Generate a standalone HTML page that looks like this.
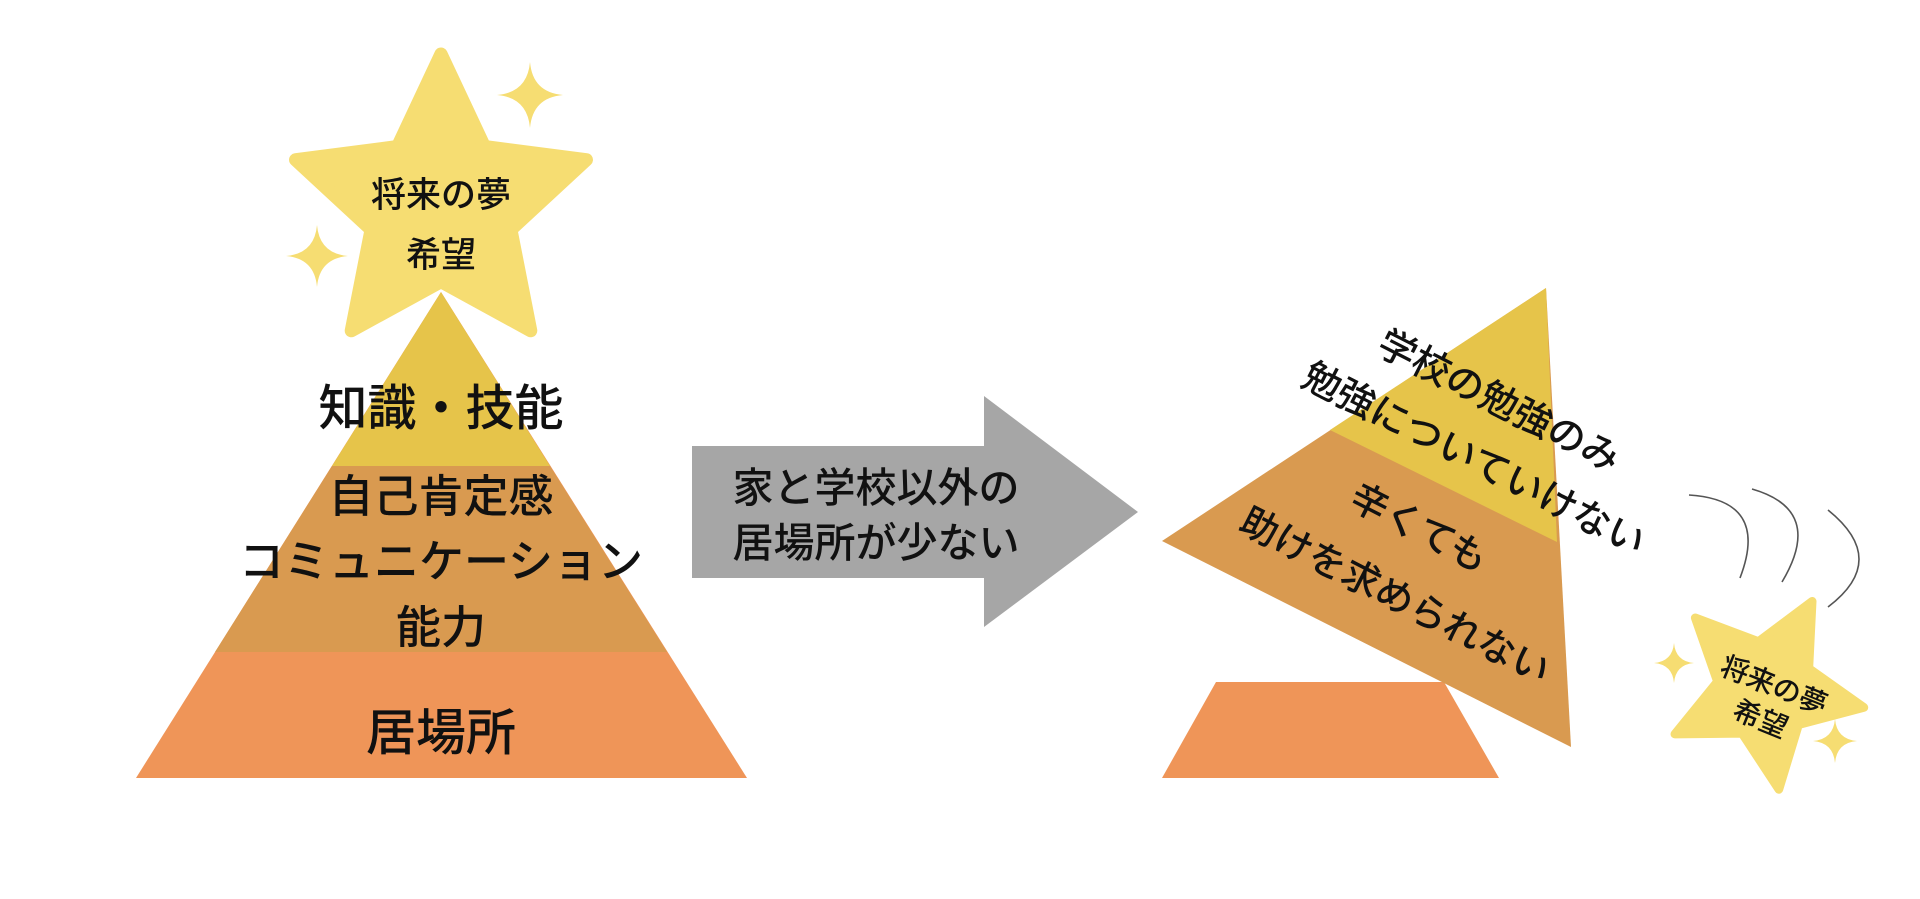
<!DOCTYPE html>
<html><head><meta charset="utf-8"><style>
html,body{margin:0;padding:0;background:#fff;}
svg{display:block;}
text{font-family:"Liberation Sans","Noto Sans CJK JP",sans-serif;fill:#111;text-anchor:middle;font-weight:500;}
</style></head><body>
<svg width="1920" height="899" viewBox="0 0 1920 899" xmlns="http://www.w3.org/2000/svg">
<defs>
<path id="star" d="M0,-162 L46,-64 L154,-50 L74,24 L95,131 L0,79 L-95,131 L-74,24 L-154,-50 L-46,-64 Z"/>
<path id="spk" d="M0,-1 Q0.08,-0.08 1,0 Q0.08,0.08 0,1 Q-0.08,0.08 -1,0 Q-0.08,-0.08 0,-1 Z"/>
</defs>
<!-- left pyramid -->
<polygon points="441,292 136,778 747,778" fill="#ef9558"/>
<polygon points="332,466 550,466 667,652 215,652" fill="#d99a50"/>
<polygon points="441,292 332,466 550,466" fill="#e6c44a"/>
<!-- star -->
<use href="#star" transform="translate(441,207) scale(0.944)" fill="#f6dd72" stroke="#f6dd72" stroke-width="14" stroke-linejoin="round"/>
<use href="#spk" transform="translate(530,95) scale(33)" fill="#f6dd72"/>
<use href="#spk" transform="translate(317,256) scale(31)" fill="#f6dd72"/>
<text x="441" y="207" font-size="35">将来の夢</text>
<text x="441" y="267" font-size="35">希望</text>
<text x="441" y="425" font-size="49" font-weight="bold">知識・技能</text>
<text x="441" y="512" font-size="45">自己肯定感</text>
<text x="441" y="577" font-size="45">コミュニケーション</text>
<text x="441" y="643" font-size="45">能力</text>
<text x="441" y="750" font-size="50">居場所</text>
<!-- arrow -->
<polygon points="692,446 984,446 984,396 1138,512 984,627 984,578 692,578" fill="#a6a6a6"/>
<text x="876" y="502" font-size="41">家と学校以外の</text>
<text x="876" y="557" font-size="41">居場所が少ない</text>
<!-- right -->
<polygon points="1216,682 1444,682 1499,778 1162,778" fill="#ef9558"/>
<polygon points="1546,288 1162,541 1571,747" fill="#d99a50"/>
<polygon points="1546,288 1330,430 1557,542" fill="#e6c44a"/>
<g transform="translate(1499,401) rotate(27)"><text x="0" y="13" font-size="38">学校の勉強のみ</text></g>
<g transform="translate(1474,459) rotate(27)"><text x="0" y="13" font-size="38">勉強についていけない</text></g>
<g transform="translate(1419,528) rotate(27)"><text x="0" y="13" font-size="38">辛くても</text></g>
<g transform="translate(1395,596) rotate(27)"><text x="0" y="13" font-size="38">助けを求められない</text></g>
<!-- arcs -->
<g fill="none" stroke="#555" stroke-width="1.6">
<path d="M1689,495 Q1770,500 1740,578"/>
<path d="M1752,489 Q1825,510 1782,582"/>
<path d="M1828,510 Q1890,560 1828,607"/>
</g>
<!-- small star -->
<use href="#star" transform="translate(1765,690) rotate(28) scale(0.62)" fill="#f6dd72" stroke="#f6dd72" stroke-width="14" stroke-linejoin="round"/>
<use href="#spk" transform="translate(1674,663) scale(20)" fill="#f6dd72"/>
<use href="#spk" transform="translate(1835,741) scale(22)" fill="#f6dd72"/>
<g transform="translate(1768,700) rotate(22)">
<text x="0" y="-6" font-size="28">将来の夢</text>
<text x="0" y="30" font-size="28">希望</text>
</g>
</svg>
</body></html>
